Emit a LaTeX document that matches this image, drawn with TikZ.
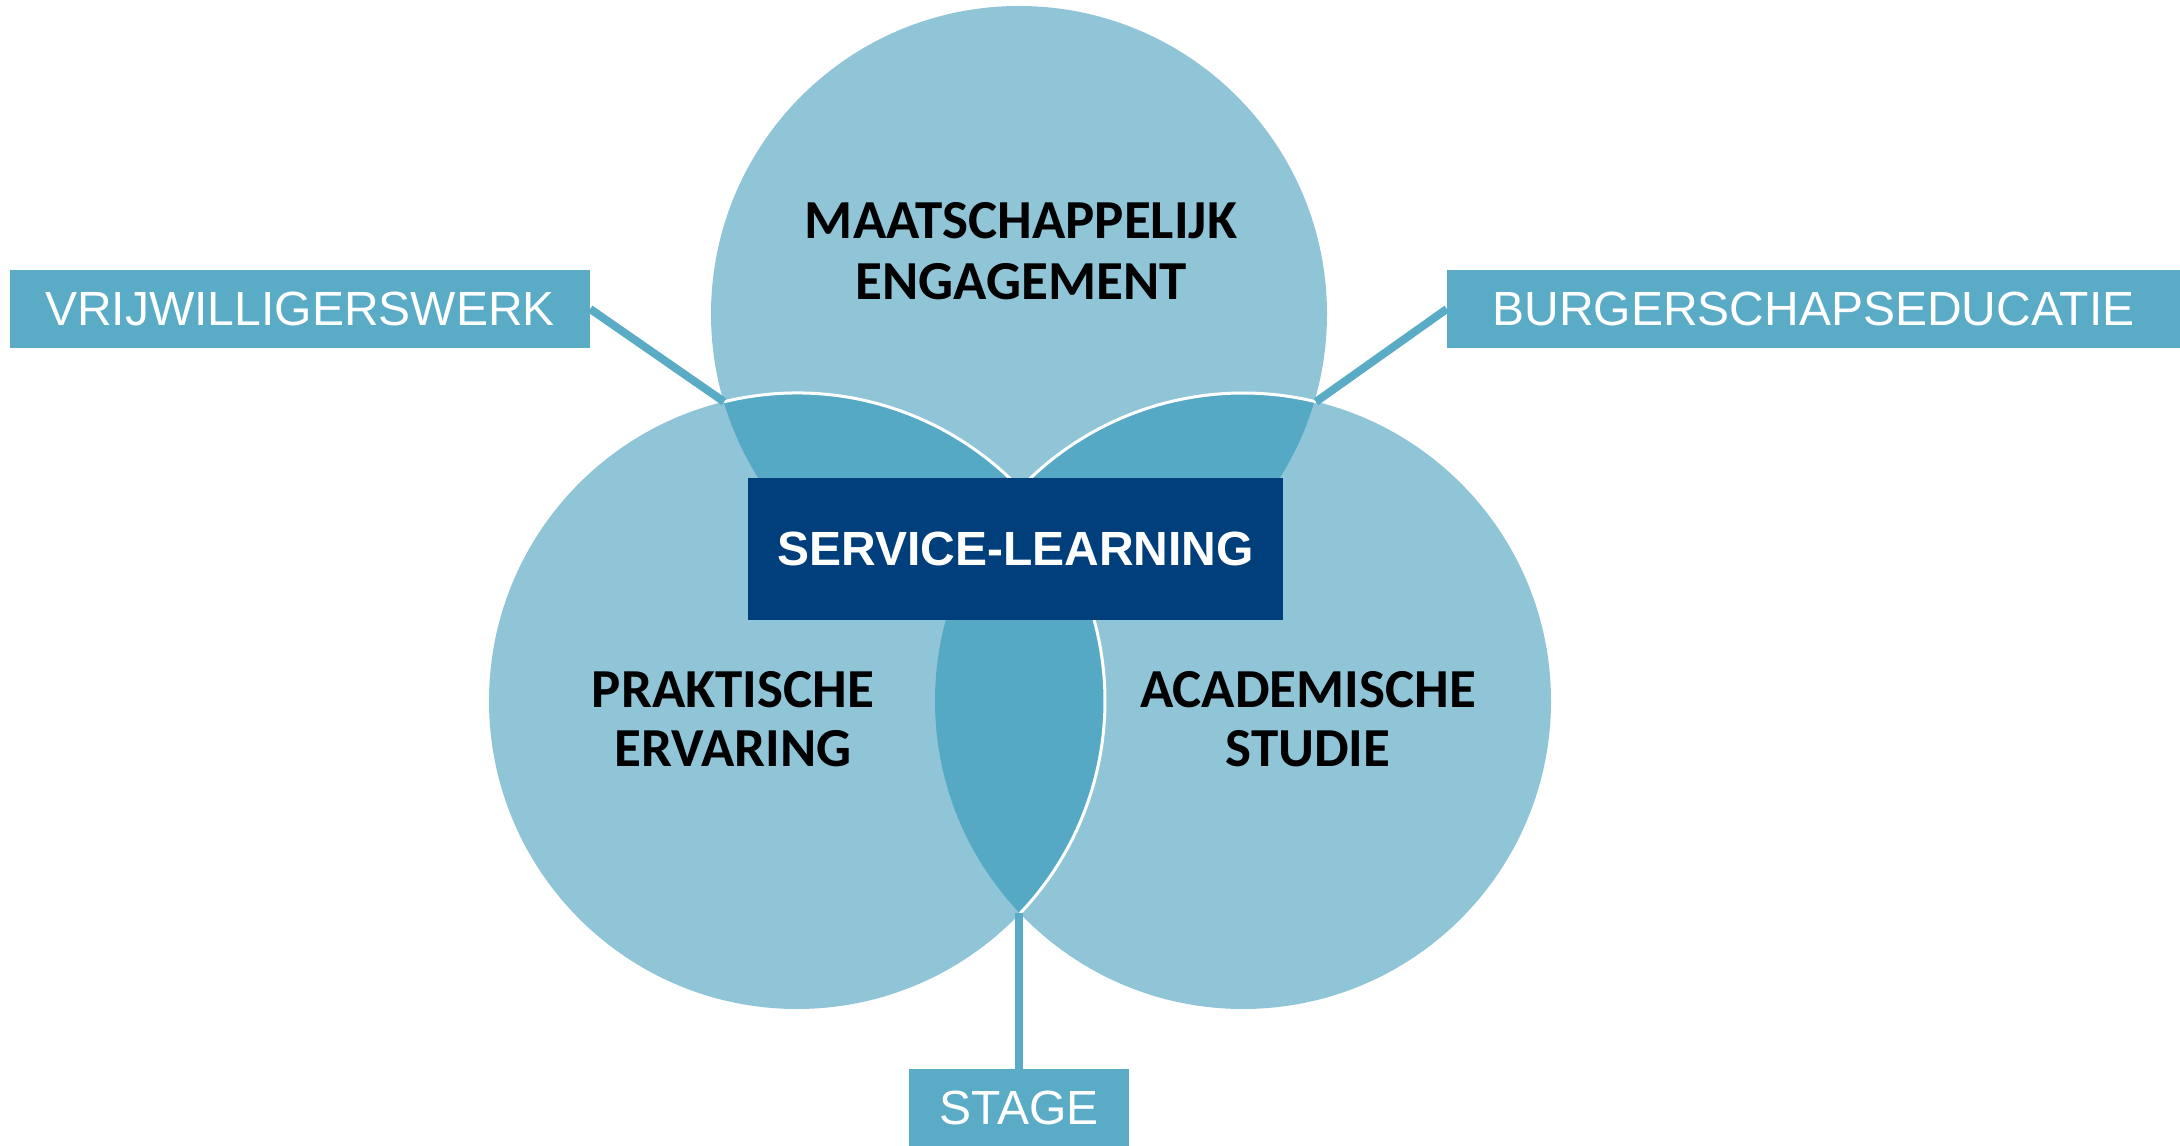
\documentclass[tikz,border=0pt]{standalone}
\usepackage{fontspec}
\setmainfont{Liberation Sans}
\newfontfamily\calibri{Carlito}
\usetikzlibrary{calc}
\definecolor{circlight}{HTML}{90C5D7}
\definecolor{lensblue}{HTML}{56A9C5}
\definecolor{boxblue}{HTML}{5AABC6}
\definecolor{darkblue}{HTML}{003F7B}
\tikzset{
  labelbox/.style={fill=boxblue, text=white, inner sep=0pt, font=\fontsize{48}{52}\selectfont},
  circtext/.style={anchor=base, text=black, inner sep=0pt, font=\calibri\bfseries\fontsize{55}{60}\selectfont},
  connector/.style={draw=boxblue, line width=8pt},
  whitearc/.style={draw=white, line width=3pt},
}
\begin{document}
\begin{tikzpicture}[x=1pt,y=1pt]
\useasboundingbox (0,0) rectangle (2180,1146);
\def\R{308}
\coordinate (T) at (1019,832);
\coordinate (L) at (797,445);
\coordinate (Rc) at (1243,445);
% circles
\fill[circlight] (T) circle (\R);
\fill[circlight] (L) circle (\R);
\fill[circlight] (Rc) circle (\R);
% lenses
\begin{scope}
  \clip (T) circle (\R);
  \fill[lensblue] (L) circle (\R);
  \fill[lensblue] (Rc) circle (\R);
\end{scope}
\begin{scope}
  \clip (L) circle (\R);
  \fill[lensblue] (Rc) circle (\R);
\end{scope}
% intersection points
\coordinate (TLx) at ($(L)+(103.7:\R)$);
\coordinate (TRx) at ($(Rc)+(76.3:\R)$);
\coordinate (LRtop) at ($(L)+(43.6:\R)$);
\coordinate (LRbot) at ($(L)+(-43.6:\R)$);
% white arcs
\draw[whitearc] (TLx) arc[start angle=103.7, end angle=-43.6, radius=\R];
\draw[whitearc] (LRtop) arc[start angle=136.4, end angle=76.3, radius=\R];
% label boxes
\node[labelbox, minimum width=580pt, minimum height=78pt] (vrij) at (300,837) {VRIJWILLIGERSWERK};
\node[labelbox, minimum width=733pt, minimum height=78pt] (burg) at (1813.5,837) {BURGERSCHAPSEDUCATIE};
\node[labelbox, minimum width=220pt, minimum height=77pt] (stage) at (1019,38.5) {STAGE};
% connectors
\draw[connector] (vrij.east) -- (TLx);
\draw[connector] (burg.west) -- (TRx);
\draw[connector] (stage.north) -- (stage.north |- LRbot);
% central box
\node[fill=darkblue, text=white, inner sep=0pt, minimum width=535pt, minimum height=142pt,
      font=\bfseries\fontsize{48}{52}\selectfont] (sl) at (1015.5,597) {SERVICE-LEARNING};
% circle labels
\node[circtext] (maat) at (1021,907) {MAATSCHAPPELIJK};
\node[circtext] (eng) at (1021,846.5) {ENGAGEMENT};
\node[circtext] (prak) at (733,438) {PRAKTISCHE};
\node[circtext] (erv) at (733,379) {ERVARING};
\node[circtext] (acad) at (1308,438) {ACADEMISCHE};
\node[circtext] (stud) at (1308,379) {STUDIE};
\end{tikzpicture}
\end{document}
